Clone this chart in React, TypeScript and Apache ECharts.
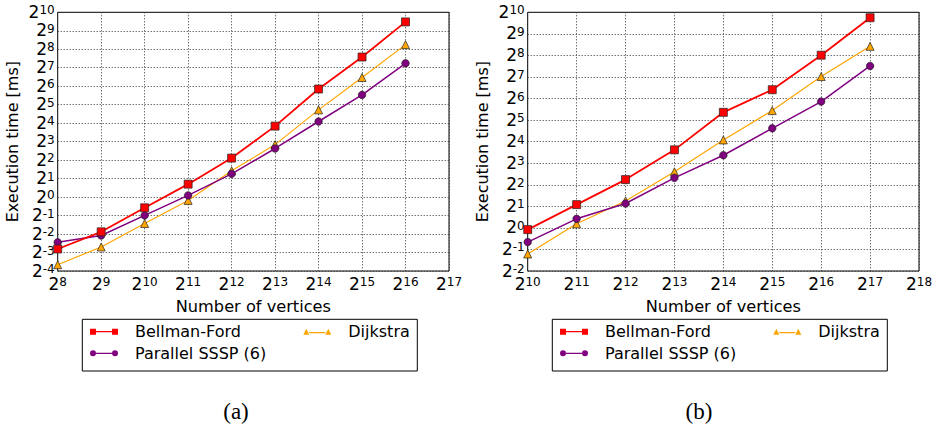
import React, { useEffect, useRef } from "react";
import * as echarts from "echarts";

// ---------- data (y values are log2 of execution time in ms) ----------
const seriesNames = ["Bellman-Ford", "Dijkstra", "Parallel SSSP (6)"];

// panel (a)
const verticesA = [256, 512, 1024, 2048, 4096, 8192, 16384, 32768, 65536];
const bellmanFordLog2A = [-2.81, -1.88, -0.58, 0.7, 2.11, 3.84, 5.85, 7.58, 9.48];
const dijkstraLog2A = [-3.66, -2.7, -1.43, -0.18, 1.42, 2.84, 4.72, 6.47, 8.25];
const parallelLog2A = [-2.45, -2.08, -0.99, 0.09, 1.26, 2.63, 4.09, 5.53, 7.24];
const xExpRangeA = [8, 17];
const yExpRangeA = [-4, 10];

// panel (b)
const verticesB = [1024, 2048, 4096, 8192, 16384, 32768, 65536, 131072];
const bellmanFordLog2B = [-0.08, 1.08, 2.24, 3.62, 5.36, 6.41, 8.01, 9.75];
const dijkstraLog2B = [-1.21, 0.19, 1.25, 2.6, 4.08, 5.44, 7.02, 8.42];
const parallelLog2B = [-0.66, 0.42, 1.13, 2.32, 3.37, 4.62, 5.86, 7.51];
const xExpRangeB = [10, 18];
const yExpRangeB = [-2, 10];

const panelCaptions = ["(a)", "(b)"];
const xAxisTitle = "Number of vertices";
const yAxisTitle = "Execution time [ms]";

// ---------- styling ----------
const FONT = "DejaVu Sans";
const colors = ["#ff0000", "#ffa500", "#800080"];
const symbols = ["rect", "triangle", "circle"];
const lineWidths = [1.8, 1.2, 1.5];
const legendIcons = [
  "path://M0,0h6v6h-6zM22,0h6v6h-6zM6,2.4h16v1.2h-16z",
  "path://M0,6L3,0L6,6zM22,6L25,0L28,6zM6,3.4h16v1.2h-16z",
  "path://M0,3a3,3 0 1,0 6,0a3,3 0 1,0 -6,0zM22,3a3,3 0 1,0 6,0a3,3 0 1,0 -6,0zM6,2.4h16v1.2h-16z",
];

const supRich = {
  b: { fontSize: 17, lineHeight: 16, verticalAlign: "bottom", fontFamily: FONT, color: "#000" },
  s: { fontSize: 12, lineHeight: 3, verticalAlign: "top", fontFamily: FONT, color: "#000" },
};
const powLabel = (v: number) => `{b|2}{s|${Math.round(v)}}`;

const splitLine = { show: true, lineStyle: { color: "#333", type: [1, 2] as any, width: 1 } };

function App() {
  const ref = useRef<HTMLDivElement>(null);
  useEffect(() => {
    if (!ref.current) return;
    const chart = echarts.init(ref.current, undefined, { renderer: "svg" });

    const panels = [
      { vx: verticesA, ys: [bellmanFordLog2A, dijkstraLog2A, parallelLog2A], xr: xExpRangeA, yr: yExpRangeA, left: 57.7 },
      { vx: verticesB, ys: [bellmanFordLog2B, dijkstraLog2B, parallelLog2B], xr: xExpRangeB, yr: yExpRangeB, left: 527.7 },
    ];
    const plotW = 391.3;
    const plotTop = 12.3;
    const plotH = 258.7;

    const grid: any[] = [];
    const xAxis: any[] = [];
    const yAxis: any[] = [];
    const series: any[] = [];
    const legend: any[] = [];
    const graphic: any[] = [];

    panels.forEach((p, i) => {
      grid.push({
        left: p.left,
        top: plotTop,
        width: plotW,
        height: plotH,
        show: true,
        borderColor: "#000",
        borderWidth: 1,
        backgroundColor: "#fff",
      });
      // log2 axes: the axis coordinate is the base-2 exponent
      xAxis.push({
        type: "value",
        gridIndex: i,
        min: p.xr[0],
        max: p.xr[1],
        interval: 1,
        axisLine: { show: false },
        axisTick: { show: false },
        splitLine,
        axisLabel: { formatter: powLabel, rich: supRich, margin: 5, showMinLabel: true, showMaxLabel: true },
        name: xAxisTitle,
        nameLocation: "middle",
        nameGap: 27,
        nameTextStyle: { fontFamily: FONT, fontSize: 16.2, color: "#000" },
      });
      yAxis.push({
        type: "value",
        gridIndex: i,
        min: p.yr[0],
        max: p.yr[1],
        interval: 1,
        axisLine: { show: false },
        axisTick: { show: false },
        splitLine,
        axisLabel: { formatter: powLabel, rich: supRich, margin: 3, showMinLabel: true, showMaxLabel: true },
        name: yAxisTitle,
        nameLocation: "middle",
        nameGap: 37,
        nameRotate: 90,
        nameTextStyle: { fontFamily: FONT, fontSize: 16, color: "#000" },
      });
      p.ys.forEach((ys, k) => {
        series.push({
          type: "line",
          name: seriesNames[k],
          xAxisIndex: i,
          yAxisIndex: i,
          data: p.vx.map((x, j) => [Math.log2(x), ys[j]]),
          symbol: symbols[k],
          symbolSize: k === 2 ? 7.5 : 8,
          showSymbol: true,
          color: colors[k],
          lineStyle: { color: colors[k], width: lineWidths[k] },
          itemStyle: { color: colors[k], borderColor: "#222", borderWidth: 0.7 },
          z: k === 0 ? 5 : k === 2 ? 4 : 3,
        });
      });

      const off = i * 470;
      const legendPos = [
        { left: 90 + off, top: 323.7 },
        { left: 303.3 + off, top: 323.7 },
        { left: 90 + off, top: 345.3 },
      ];
      seriesNames.forEach((n, k) => {
        legend.push({
          data: [{ name: n, icon: legendIcons[k] }],
          left: legendPos[k].left,
          top: legendPos[k].top,
          padding: 0,
          itemWidth: 28,
          itemHeight: 6,
          itemStyle: { borderWidth: 0 },
          textStyle: { fontFamily: FONT, fontSize: 16, color: "#000", padding: [0, 0, 0, 12] },
          selectedMode: false,
        });
      });
      graphic.push({
        type: "rect",
        z: 1,
        shape: { x: 82.3 + off, y: 319.3, width: 335, height: 51.7 },
        style: { fill: "#fff", stroke: "#000", lineWidth: 1 },
      });
      graphic.push({
        type: "text",
        z: 1,
        x: i === 0 ? 236 : 699,
        y: 411.5,
        style: {
          text: panelCaptions[i],
          font: '23px "Liberation Serif"',
          fill: "#000",
          align: "center",
          verticalAlign: "middle",
        },
      });
    });

    chart.setOption({
      animation: false,
      backgroundColor: "#fff",
      grid,
      xAxis,
      yAxis,
      series,
      legend,
      graphic,
    });
    return () => chart.dispose();
  }, []);
  return (
    <div
      ref={ref}
      style={{ position: "absolute", left: 0, top: 0, width: 937, height: 428, background: "#fff" }}
    />
  );
}

export default App;
